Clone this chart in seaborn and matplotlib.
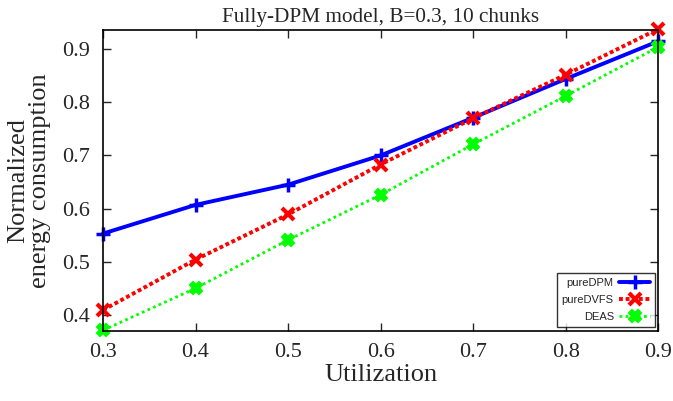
import matplotlib
matplotlib.use("Agg")
import matplotlib.pyplot as plt
import seaborn as sns
import pandas as pd

utilization = [0.3, 0.4, 0.5, 0.6, 0.7, 0.8, 0.9]
pure_dpm = [0.553, 0.607, 0.645, 0.700, 0.771, 0.844, 0.915]
pure_dvfs = [0.409, 0.504, 0.589, 0.683, 0.770, 0.852, 0.938]
deas = [0.371, 0.450, 0.541, 0.626, 0.721, 0.812, 0.904]
series_names = ["pureDPM", "pureDVFS", "DEAS"]
x_ticks = [0.3, 0.4, 0.5, 0.6, 0.7, 0.8, 0.9]
y_ticks = [0.4, 0.5, 0.6, 0.7, 0.8, 0.9]

sns.set_theme(style="ticks")
plt.rcParams['font.family'] = ['Liberation Serif', 'DejaVu Serif']

fig = plt.figure(figsize=(6.73, 4.01), dpi=100)
ax = fig.add_axes([0.153, 0.175, 0.825, 0.750])

df = pd.DataFrame({
    "Utilization": utilization * 3,
    "value": pure_dpm + pure_dvfs + deas,
    "series": [series_names[0]] * 7 + [series_names[1]] * 7 + [series_names[2]] * 7,
})

styles = {
    "pureDPM": dict(color="#0000ff", lw=2.8, ls="-", marker="+", ms=10, mew=2.5),
    "pureDVFS": dict(color="#ff0000", lw=2.8, ls=(0, (1, 0.7)), marker="x", ms=8, mew=3),
    "DEAS": dict(color="#00ff00", lw=2.0, ls=(0, (1, 1.2)), marker="X", ms=9, mew=1.5),
}

for name in series_names:
    sub = df[df["series"] == name]
    st = styles[name]
    sns.lineplot(data=sub, x="Utilization", y="value", ax=ax, label=name,
                 color=st["color"], linewidth=st["lw"], linestyle=st["ls"],
                 marker=st["marker"], markersize=st["ms"], markeredgewidth=st["mew"],
                 markeredgecolor=st["color"], markerfacecolor=st["color"], clip_on=False)

ax.set_xlim(0.3, 0.9)
ax.set_ylim(0.37, 0.936)
ax.set_xticks(x_ticks)
ax.set_xticklabels([f"{v:.1f}" for v in x_ticks])
ax.set_yticks(y_ticks)
ax.set_yticklabels([f"{v:.1f}" for v in y_ticks])
ax.tick_params(direction="in", top=True, right=True, length=6, width=1, labelsize=16, pad=9)
for s in ax.spines.values():
    s.set_linewidth(1.2)
    s.set_color("black")

ax.set_xlabel("Utilization", fontsize=19, labelpad=1)
ax.set_ylabel("Normalized\nenergy consumption", fontsize=19, labelpad=8, linespacing=1.0)
ax.set_title("Fully-DPM model, B=0.3, 10 chunks", fontsize=15.3, pad=6)

leg = ax.legend(loc="lower right", markerfirst=False, frameon=True, fancybox=False,
                prop={"family": "Liberation Sans", "size": 8}, handlelength=2.8,
                borderpad=0.45, labelspacing=0.65, handletextpad=0.5,
                borderaxespad=0, bbox_to_anchor=(0.995, 0.012))
leg.get_frame().set_edgecolor("black")
leg.get_frame().set_linewidth(1.0)
for t in leg.get_texts():
    t.set_ha("right")

fig.savefig("out.png", dpi=100)
